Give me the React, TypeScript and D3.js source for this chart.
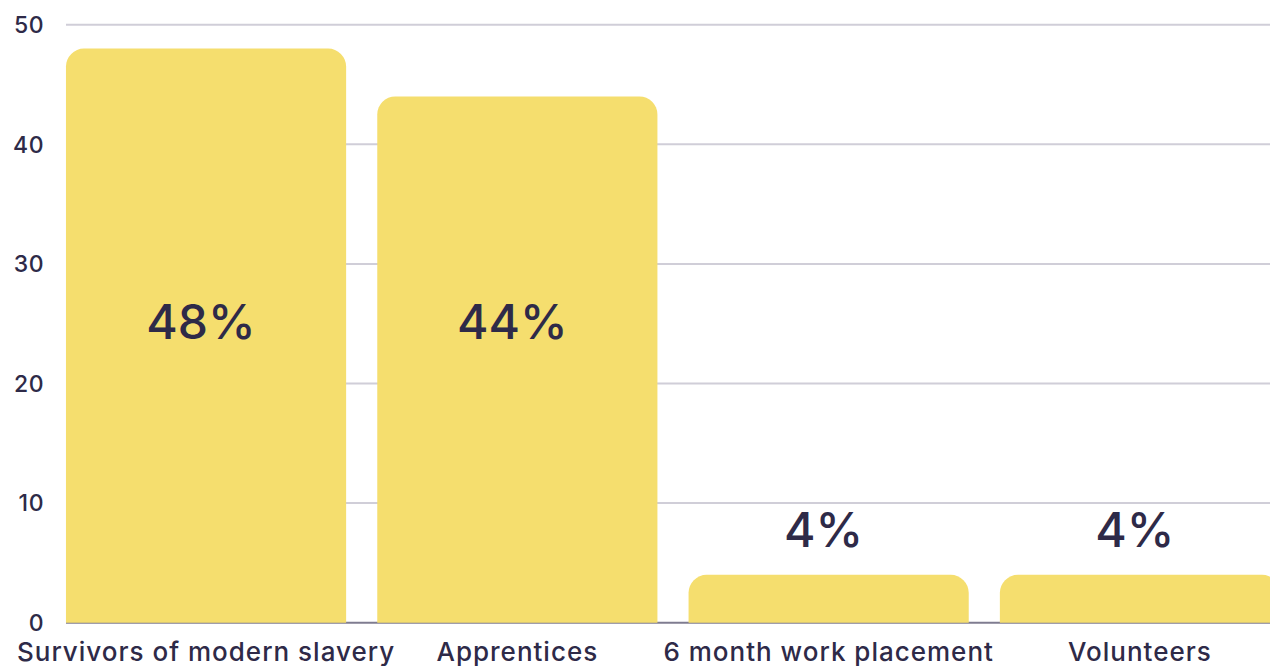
import React, { useLayoutEffect, useRef } from "react";
import * as d3 from "d3";

const categories = ["Survivors of modern slavery", "Apprentices", "6 month work placement", "Volunteers"];
const values = [48, 44, 4, 4];
const valueLabels = ["48%", "44%", "4%", "4%"];
const yTicks = [0, 10, 20, 30, 40, 50];

const W = 1270;
const H = 666;
const FONT = "Inter, 'Noto Sans', sans-serif";
const TEXT = "#2e2a48";

export default function App() {
  const gRef = useRef<SVGGElement>(null);

  const x = d3.scaleBand<string>().domain(categories).range([50.4, 1295.6]).paddingInner(0.1).paddingOuter(0.05);
  const y = d3.scaleLinear().domain([0, 50]).range([622.7, 24.7]);
  const r = 18;

  useLayoutEffect(() => {
    if (!gRef.current) return;
    d3.select(gRef.current).selectAll<SVGTextElement, unknown>("text.cat").each(function () {
      const bb = this.getBBox();
      const cy = bb.y + bb.height / 2;
      const target = 651;
      const cur = +this.getAttribute("y")!;
      this.setAttribute("y", String(cur + (target - cy)));
    });
  }, []);

  const barPath = (xs: number, w: number, top: number, bottom: number) => {
    const rr = Math.min(r, (bottom - top));
    return `M${xs},${bottom} L${xs},${top + rr} A${rr},${rr} 0 0 1 ${xs + rr},${top} L${xs + w - rr},${top} A${rr},${rr} 0 0 1 ${xs + w},${top + rr} L${xs + w},${bottom} Z`;
  };

  return (
    <svg width={W} height={H} style={{ position: "absolute", left: 0, top: 0, background: "#fff" }} fontFamily={FONT}>
      {yTicks.map((t) => (
        <g key={t}>
          <line x1={66} x2={W} y1={y(t)} y2={y(t)} stroke={t === 0 ? "#7f7c90" : "#d0ced8"} strokeWidth={2} />
          <text x={44} y={y(t)} dy="0.36em" textAnchor="end" fontSize={23} fill={TEXT} fontWeight={500} letterSpacing={0.5}>
            {t}
          </text>
        </g>
      ))}
      {categories.map((c, i) => {
        const xs = x(c)!;
        const w = x.bandwidth();
        const top = y(values[i]);
        return (
          <path key={c} d={barPath(xs, w, top, y(0))} fill="#f5de6e" />
        );
      })}
      {categories.map((c, i) => {
        const cx = x(c)! + x.bandwidth() / 2 - 5;
        const inside = values[i] > 25;
        const ly = inside ? y(25) + 15 : y(values[i]) - 28;
        return (
          <text key={c} x={cx} y={ly} textAnchor="middle" fontSize={48} fill={TEXT} fontWeight={500}>
            {valueLabels[i]}
          </text>
        );
      })}
      <g ref={gRef}>
        {categories.map((c) => (
          <text key={c} className="cat" x={x(c)! + x.bandwidth() / 2} y={657} textAnchor="middle" fontSize={26} fill={TEXT} fontWeight={500} letterSpacing={1}>
            {c}
          </text>
        ))}
      </g>
    </svg>
  );
}
